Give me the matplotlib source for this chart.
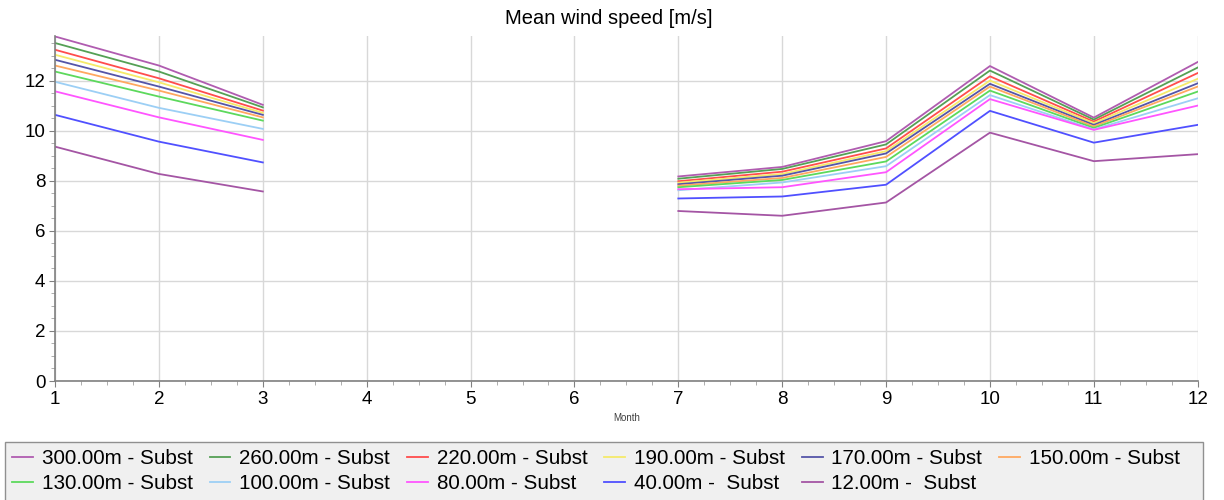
import numpy as np
import matplotlib
matplotlib.use("Agg")
import matplotlib.pyplot as plt
from matplotlib.ticker import MultipleLocator
from matplotlib.patches import Rectangle

plt.rcParams['font.family'] = ['Liberation Sans', 'DejaVu Sans']

months = [1, 2, 3, 4, 5, 6, 7, 8, 9, 10, 11, 12]
nan = np.nan

labels = ["300.00m - Subst", "260.00m - Subst", "220.00m - Subst", "190.00m - Subst",
          "170.00m - Subst", "150.00m - Subst", "130.00m - Subst", "100.00m - Subst",
          "80.00m - Subst", "40.00m -  Subst", "12.00m -  Subst"]
colors = ["#b05cb0", "#55a055", "#ff4d4d", "#f5ea6a", "#5555a8", "#ffa860",
          "#5cd95c", "#9ccff5", "#ff55ff", "#5050ff", "#a455a4"]

s300 = [13.76, 12.60, 11.03, nan, nan, nan, 8.17, 8.55, 9.58, 12.58, 10.52, 12.74]
s260 = [13.50, 12.36, 10.93, nan, nan, nan, 8.08, 8.47, 9.45, 12.40, 10.44, 12.52]
s220 = [13.23, 12.09, 10.80, nan, nan, nan, 7.98, 8.36, 9.29, 12.17, 10.36, 12.30]
s190 = [13.03, 11.93, 10.71, nan, nan, nan, 7.92, 8.27, 9.18, 12.00, 10.30, 12.07]
s170 = [12.83, 11.76, 10.63, nan, nan, nan, 7.86, 8.20, 9.09, 11.87, 10.23, 11.89]
s150 = [12.60, 11.60, 10.53, nan, nan, nan, 7.80, 8.11, 8.95, 11.76, 10.17, 11.76]
s130 = [12.36, 11.36, 10.40, nan, nan, nan, 7.74, 8.03, 8.77, 11.60, 10.11, 11.56]
s100 = [11.95, 10.91, 10.07, nan, nan, nan, 7.62, 7.93, 8.58, 11.42, 10.05, 11.29]
s80 = [11.57, 10.53, 9.63, nan, nan, nan, 7.66, 7.74, 8.34, 11.26, 10.03, 11.00]
s40 = [10.63, 9.56, 8.73, nan, nan, nan, 7.29, 7.37, 7.84, 10.79, 9.52, 10.23]
s12 = [9.36, 8.27, 7.57, nan, nan, nan, 6.79, 6.60, 7.13, 9.92, 8.78, 9.06]

series = [s300, s260, s220, s190, s170, s150, s130, s100, s80, s40, s12]

fig = plt.figure(figsize=(12.24, 5.0), dpi=100)
ax = fig.add_axes([0.045, 0.238, 0.9335, 0.69])

handles = []
for lab, col, vals in zip(labels, colors, series):
    h, = ax.plot(months, vals, color=col, lw=1.3, label=lab)
    handles.append(h)

ax.set_xlim(1, 12)
ax.set_ylim(0, 13.78)
ax.xaxis.set_major_locator(MultipleLocator(1))
ax.xaxis.set_minor_locator(MultipleLocator(0.25))
ax.yaxis.set_major_locator(MultipleLocator(2))
ax.yaxis.set_minor_locator(MultipleLocator(0.5))
ax.grid(True, which='major', color='#d8d8d8', lw=1.0)
ax.set_axisbelow(True)
for sp in ['top', 'right']:
    ax.spines[sp].set_visible(False)
for sp in ['left', 'bottom']:
    ax.spines[sp].set_color('#808080')
    ax.spines[sp].set_linewidth(1.2)
ax.tick_params(which='major', length=4, color='#808080', labelsize=13.5, pad=3)
ax.tick_params(which='minor', length=3, color='#a0a0a0')
fig.text(0.497, 0.963, "Mean wind speed [m/s]", fontsize=14.5, ha='center', va='center')
ax.set_xlabel("Month", fontsize=7, color='#404040', labelpad=4)

# legend frame drawn separately so it spans the figure width like the original
fig.patches.append(Rectangle((5 / 1224, -0.02), 1198 / 1224, 0.136,
                             transform=fig.transFigure, facecolor='#f0f0f0',
                             edgecolor='#909090', lw=1.0, zorder=0))

# row-major legend order (matplotlib fills column by column)
order = [0, 6, 1, 7, 2, 8, 3, 9, 4, 10, 5]
leg = fig.legend([handles[i] for i in order], [labels[i] for i in order],
                 loc='upper left', bbox_to_anchor=(12 / 1224, 0.102),
                 ncol=6, fontsize=14.9, frameon=False,
                 handlelength=1.0, handletextpad=0.43, borderpad=0,
                 columnspacing=0.82, labelspacing=0.3, borderaxespad=0)

fig.savefig("out.png", dpi=100)
